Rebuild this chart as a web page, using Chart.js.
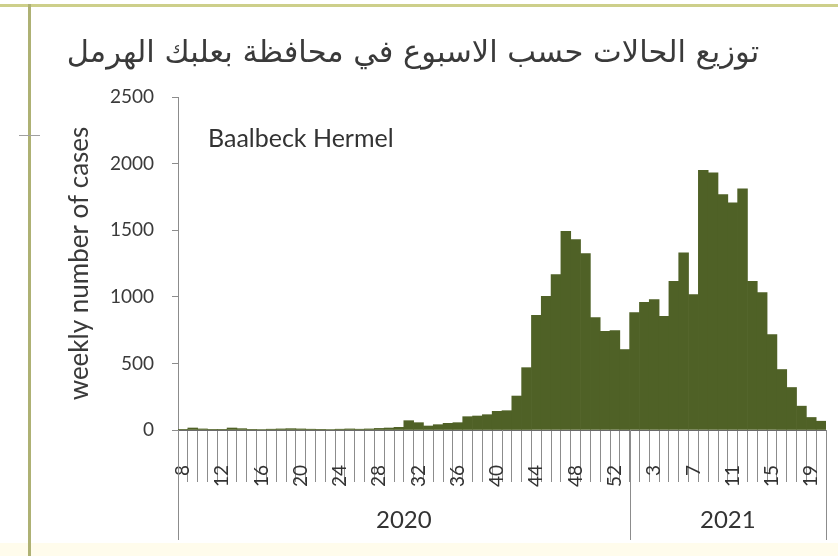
<!DOCTYPE html>
<html>
<head>
<meta charset="utf-8">
<title>Baalbeck Hermel weekly cases</title>
<script src="https://cdn.jsdelivr.net/npm/chart.js@4"></script>
<style>
  html, body { margin: 0; padding: 0; background: #fff; }
  canvas { display: block; }
</style>
</head>
<body>
<canvas id="myChart" width="838" height="556"></canvas>
<script>
const titleText = 'توزيع الحالات حسب الاسبوع في محافظة بعلبك الهرمل';
const regionName = 'Baalbeck Hermel';

// epi weeks: 2020 w8..w53, then 2021 w1..w20
const weekLabels = [
  '8', '9', '10', '11', '12', '13', '14', '15', '16', '17',
  '18', '19', '20', '21', '22', '23', '24', '25', '26', '27',
  '28', '29', '30', '31', '32', '33', '34', '35', '36', '37',
  '38', '39', '40', '41', '42', '43', '44', '45', '46', '47',
  '48', '49', '50', '51', '52', '53',
  '1', '2', '3', '4', '5', '6', '7', '8', '9', '10',
  '11', '12', '13', '14', '15', '16', '17', '18', '19', '20',
];

const weeklyCases = [
  5, 15, 8, 5, 5, 15, 10, 5, 4, 6,
  8, 10, 8, 6, 5, 4, 6, 8, 6, 8,
  12, 15, 20, 70, 55, 30, 40, 50, 55, 100,
  105, 115, 140, 145, 255, 468, 861, 1004, 1166, 1491,
  1429, 1324, 844, 741, 747, 604,
  881, 959, 979, 854, 1116, 1331, 1016, 1949, 1931, 1767,
  1706, 1811, 1116, 1031, 716, 454, 319, 179, 94, 66,
];

const years = ['2020', '2021'];
const yearFirstIndex = [0, 46];

Chart.defaults.font.family = 'Lato';
Chart.defaults.color = '#3a3a3a';

// page frame: olive rules at top and left, cream strip at the bottom
const framePlugin = {
  id: 'frame',
  beforeDraw(chart) {
    const ctx = chart.ctx;
    ctx.save();
    ctx.fillStyle = '#ffffff';
    ctx.fillRect(0, 0, chart.width, chart.height);
    ctx.fillStyle = '#fffcec';
    ctx.fillRect(0, 543, chart.width, chart.height - 543);
    ctx.fillStyle = '#cdcf8a';
    ctx.fillRect(0, 4, chart.width, 3);
    ctx.fillStyle = '#aeb174';
    ctx.fillRect(28, 4, 3, chart.height);
    ctx.strokeStyle = '#a0a0a0';
    ctx.beginPath();
    ctx.moveTo(19, 135.5);
    ctx.lineTo(40, 135.5);
    ctx.stroke();
    ctx.restore();
  }
};

// region label inside the plot, and the year band under the week labels
const labelsPlugin = {
  id: 'yearBand',
  afterDraw(chart) {
    const ctx = chart.ctx;
    const xs = chart.scales.x;
    const area = chart.chartArea;
    const step = xs.getPixelForValue(1) - xs.getPixelForValue(0);
    const edge = i => xs.getPixelForValue(i) - step / 2;

    ctx.save();
    ctx.font = '25px Lato';
    ctx.fillStyle = '#333333';
    ctx.textBaseline = 'middle';
    ctx.textAlign = 'left';
    ctx.fillText(regionName, 208, 139);

    ctx.strokeStyle = '#8c8c8c';
    ctx.lineWidth = 1;
    const bounds = yearFirstIndex.concat([weekLabels.length]);
    bounds.forEach(i => {
      const x = Math.round(edge(i)) + 0.5;
      ctx.beginPath();
      ctx.moveTo(x, area.bottom);
      ctx.lineTo(x, 540);
      ctx.stroke();
    });
    ctx.font = '24px Lato';
    ctx.textAlign = 'center';
    years.forEach((y, k) => {
      const mid = (edge(bounds[k]) + edge(bounds[k + 1])) / 2;
      ctx.fillText(y, mid, 520);
    });
    ctx.restore();
  }
};

const data = {
  labels: weekLabels,
  datasets: [{
    data: weeklyCases,
    backgroundColor: '#4f6126',
    borderWidth: 0,
    barPercentage: 1,
    categoryPercentage: 1,
  }]
};

const config = {
  type: 'bar',
  data: data,
  options: {
    responsive: false,
    animation: false,
    layout: {
      padding: { left: 0, right: 12, top: 0, bottom: 0 }
    },
    plugins: {
      legend: { display: false },
      tooltip: { enabled: false },
      title: {
        display: true,
        text: titleText,
        font: { family: 'DejaVu Sans', size: 30.5, weight: 'normal' },
        color: '#3a3a3a',
        padding: { top: 36, bottom: 24.4 }
      }
    },
    scales: {
      x: {
        grid: {
          offset: true,
          drawOnChartArea: false,
          tickLength: 52,
          color: '#8c8c8c'
        },
        border: { color: '#6a6a6a' },
        ticks: {
          autoSkip: false,
          minRotation: 90,
          maxRotation: 90,
          padding: -17,
          font: { size: 19 },
          color: '#333333',
          callback: function (v, i) {
            return i % 4 === 0 ? this.getLabelForValue(v) : '';
          }
        },
        afterFit: s => { s.height = 126; }
      },
      y: {
        min: 0,
        max: 2500,
        ticks: {
          stepSize: 500,
          padding: 18,
          font: { size: 19 },
          callback: v => String(v)
        },
        grid: { drawOnChartArea: false, tickLength: 6, color: '#8c8c8c' },
        border: { color: '#8c8c8c' },
        title: {
          display: true,
          text: 'weekly number of cases',
          font: { size: 26 },
          padding: { top: 64.4, bottom: 0 }
        },
        afterFit: s => { s.width = 178; }
      }
    }
  },
  plugins: [framePlugin, labelsPlugin]
};

const myChart = new Chart(document.getElementById('myChart'), config);
</script>
</body>
</html>
